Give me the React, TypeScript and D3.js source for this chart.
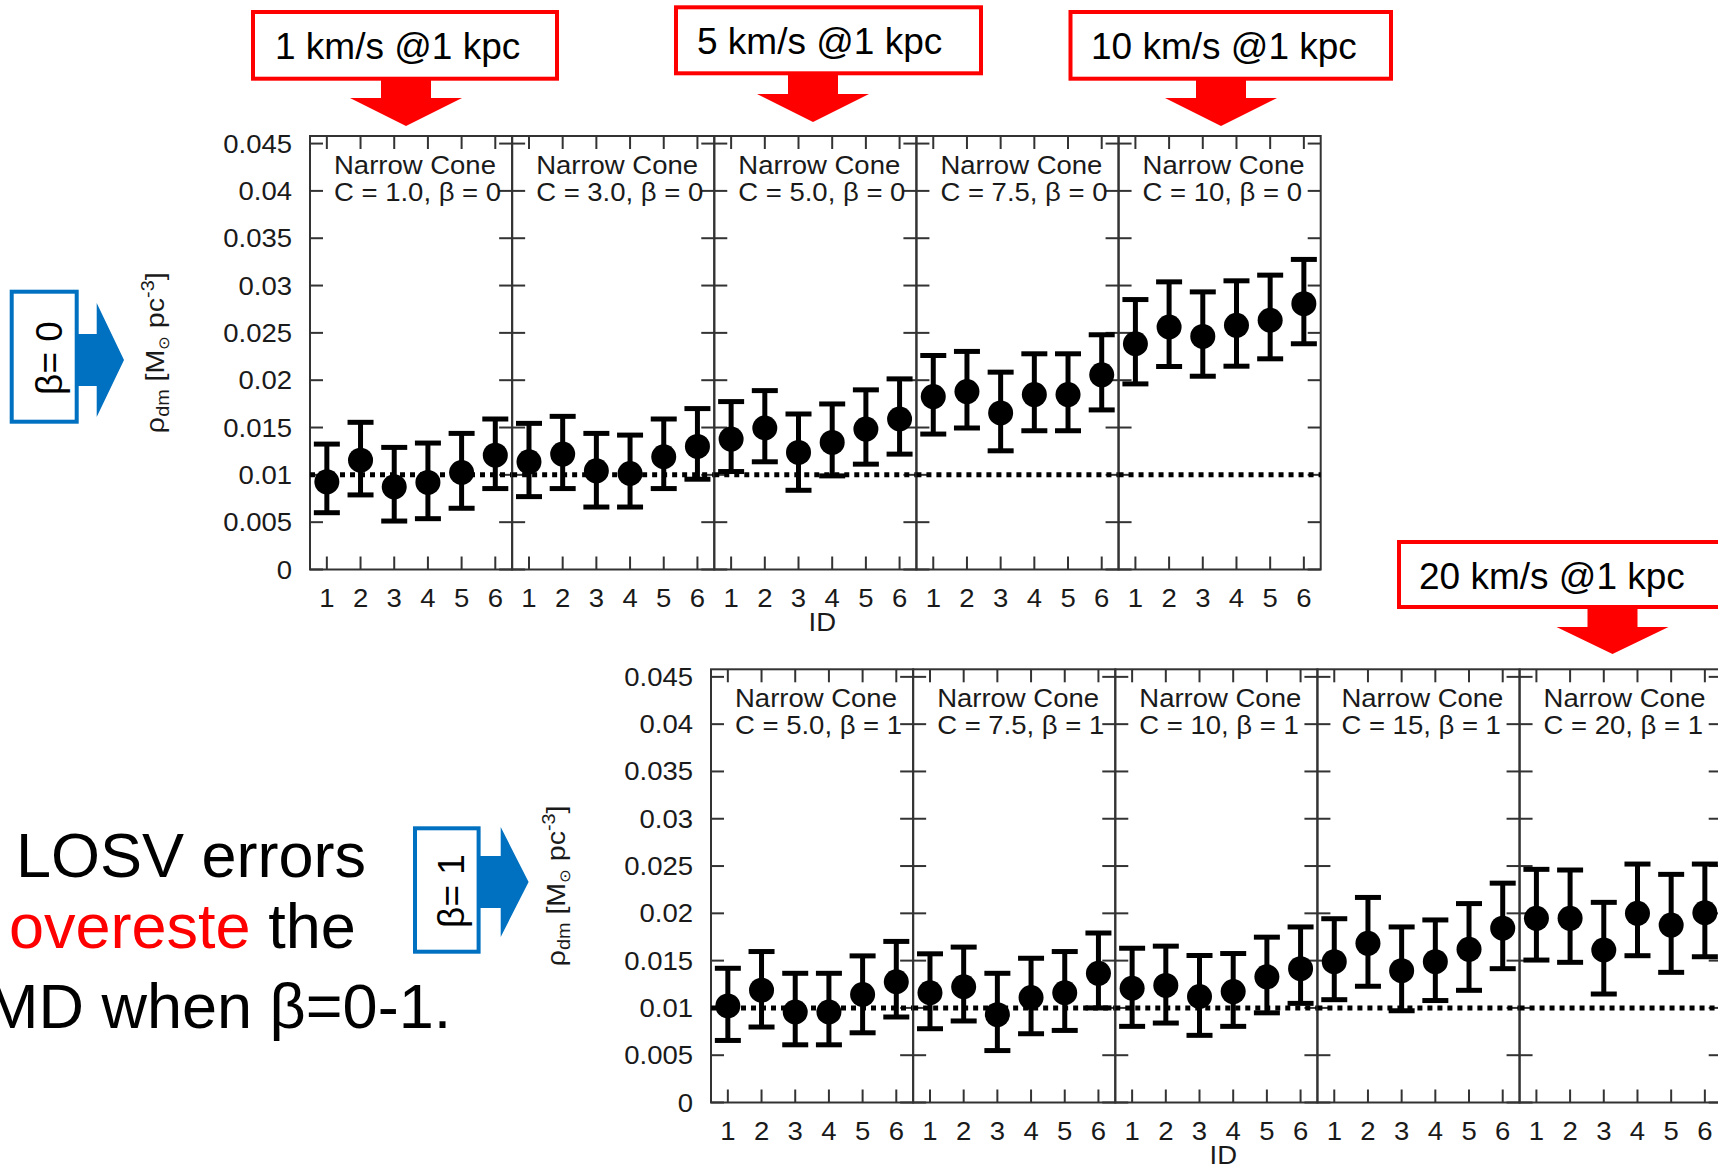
import React from 'react';
import * as d3 from 'd3';

// simulated stars ID per panel
const ids = [1, 2, 3, 4, 5, 6];
const yTicks = [0, 0.005, 0.01, 0.015, 0.02, 0.025, 0.03, 0.035, 0.04, 0.045];
const yTickLabels = ['0', '0.005', '0.01', '0.015', '0.02', '0.025', '0.03', '0.035', '0.04', '0.045'];
const trueDensity = 0.01;

// beta = 0 row
const topTitles = ['C = 1.0, β = 0', 'C = 3.0, β = 0', 'C = 5.0, β = 0', 'C = 7.5, β = 0', 'C = 10, β = 0'];
const topMean = [
  [0.00926, 0.01155, 0.00873, 0.0092, 0.01025, 0.01208],
  [0.01138, 0.01219, 0.01042, 0.01014, 0.01191, 0.0130],
  [0.01378, 0.01495, 0.01237, 0.01343, 0.01484, 0.0159],
  [0.01827, 0.0188, 0.01654, 0.01848, 0.01848, 0.02057],
  [0.02385, 0.02562, 0.02463, 0.0258, 0.02633, 0.02809],
];
const topHigh = [
  [0.01325, 0.01555, 0.0129, 0.01336, 0.01438, 0.0159],
  [0.01544, 0.01618, 0.01438, 0.0142, 0.0159, 0.0170],
  [0.01774, 0.0189, 0.01643, 0.01749, 0.01898, 0.02014],
  [0.02261, 0.02304, 0.02085, 0.02279, 0.02279, 0.0248],
  [0.02852, 0.03039, 0.02933, 0.0305, 0.0311, 0.03276],
];
const topLow = [
  [0.0060, 0.00788, 0.00512, 0.00537, 0.00647, 0.00855],
  [0.0077, 0.00855, 0.0066, 0.0066, 0.00855, 0.00954],
  [0.01035, 0.01138, 0.00837, 0.00989, 0.01113, 0.01219],
  [0.01431, 0.01495, 0.01254, 0.01466, 0.01466, 0.01686],
  [0.01961, 0.02145, 0.02042, 0.02148, 0.02226, 0.02385],
];

// beta = 1 row
const bottomTitles = ['C = 5.0, β = 1', 'C = 7.5, β = 1', 'C = 10, β = 1', 'C = 15, β = 1', 'C = 20, β = 1'];
const bottomMean = [
  [0.01021, 0.01188, 0.00957, 0.00957, 0.01142, 0.01277],
  [0.0116, 0.01224, 0.00929, 0.0111, 0.0116, 0.01366],
  [0.01208, 0.01238, 0.01121, 0.01173, 0.01329, 0.01415],
  [0.01489, 0.01683, 0.01394, 0.01489, 0.01619, 0.01843],
  [0.01947, 0.01947, 0.01612, 0.02, 0.01876, 0.02006],
];
const bottomHigh = [
  [0.01419, 0.01596, 0.01366, 0.01366, 0.0155, 0.01703],
  [0.01572, 0.01643, 0.01366, 0.01525, 0.01596, 0.01792],
  [0.01631, 0.01653, 0.01554, 0.01575, 0.01748, 0.01856],
  [0.01943, 0.02168, 0.01856, 0.0193, 0.02103, 0.02319],
  [0.02465, 0.02458, 0.02116, 0.02521, 0.02412, 0.02521],
];
const bottomLow = [
  [0.00656, 0.00798, 0.0061, 0.0061, 0.00737, 0.00904],
  [0.0078, 0.00862, 0.00549, 0.00727, 0.00762, 0.01],
  [0.00805, 0.0084, 0.0071, 0.00805, 0.00948, 0.01048],
  [0.01087, 0.01229, 0.0097, 0.01078, 0.01186, 0.01415],
  [0.01506, 0.01482, 0.01147, 0.01552, 0.01376, 0.01541],
];

const velocityNotes = ['1 km/s @1 kpc', '5 km/s @1 kpc', '10 km/s @1 kpc', '20 km/s @1 kpc'];

const FONT = '"Liberation Sans", Arial, Helvetica, sans-serif';
const INK = '#1a1a1a';
const PANEL_W = 202.14;
const TICK = 13;

// gnuplot text is a bit wider than Arial, stretch it
function GText({ x, y, anchor = 'start', size = 25, rot = 0, children }: any) {
  return (
    <text
      transform={`translate(${x},${y}) rotate(${rot}) scale(1.1,1)`}
      textAnchor={anchor}
      fontSize={size}
      fontFamily={FONT}
      fill={INK}
    >
      {children}
    </text>
  );
}

function Row({ left, top, bottom, titles, mean, low, high }: any) {
  const y = d3.scaleLinear().domain([0, 0.0458]).range([bottom, top]);
  const mid = left + PANEL_W * 2.5;

  return (
    <g>
      {titles.map((title: string, i: number) => {
        const x0 = left + i * PANEL_W;
        const x1 = x0 + PANEL_W;
        const x = d3.scaleLinear().domain([0.5, 6.5]).range([x0, x1]);
        return (
          <g key={i}>
            <rect x={x0} y={top} width={PANEL_W} height={bottom - top} fill="none" stroke="#333" strokeWidth={2} />
            {ids.map((d) => (
              <g key={d} stroke="#333" strokeWidth={2}>
                <line x1={x(d)} x2={x(d)} y1={bottom} y2={bottom - TICK} />
                <line x1={x(d)} x2={x(d)} y1={top} y2={top + TICK} />
              </g>
            ))}
            {yTicks.map((t) => (
              <g key={t} stroke="#333" strokeWidth={2}>
                <line x1={x0} x2={x0 + TICK} y1={y(t)} y2={y(t)} />
                <line x1={x1} x2={x1 - TICK} y1={y(t)} y2={y(t)} />
              </g>
            ))}
            <line x1={x0} x2={x1} y1={y(trueDensity)} y2={y(trueDensity)} stroke="#000" strokeWidth={5} strokeDasharray="5 5" />
            {ids.map((d, j) => (
              <g key={'e' + d} stroke="#000" strokeWidth={5}>
                <line x1={x(d)} x2={x(d)} y1={y(low[i][j])} y2={y(high[i][j])} />
                <line x1={x(d) - 13} x2={x(d) + 13} y1={y(low[i][j])} y2={y(low[i][j])} />
                <line x1={x(d) - 13} x2={x(d) + 13} y1={y(high[i][j])} y2={y(high[i][j])} />
                <circle cx={x(d)} cy={y(mean[i][j])} r={12.5} fill="#000" stroke="none" />
              </g>
            ))}
            <GText x={x0 + 24} y={top + 37.5}>Narrow Cone</GText>
            <GText x={x0 + 24} y={top + 65}>{title}</GText>
            {ids.map((d) => (
              <GText key={'l' + d} x={x(d)} y={bottom + 37} anchor="middle">{String(d)}</GText>
            ))}
          </g>
        );
      })}
      {yTicks.map((t, k) => (
        <GText key={'y' + t} x={left - 18} y={y(t) + 9} anchor="end">{yTickLabels[k]}</GText>
      ))}
      <GText x={mid + 7} y={bottom + 61} anchor="middle">ID</GText>
      <GText x={left - 146} y={(top + bottom) / 2} anchor="middle" rot={-90} size={26}>
        ρ<tspan fontSize={18} dy={5}>dm</tspan>
        <tspan dy={-5}> [M</tspan>
        <tspan fontSize={15} dy={5}>⊙</tspan>
        <tspan dy={-5}> pc</tspan>
        <tspan fontSize={18} dy={-10}>-3</tspan>
        <tspan dy={10}>]</tspan>
      </GText>
    </g>
  );
}

function downArrow(cx: number, yTop: number, yHead: number, yTip: number, sh: number, hh: number) {
  return [
    [cx - sh, yTop], [cx + sh, yTop], [cx + sh, yHead], [cx + hh, yHead],
    [cx, yTip], [cx - hh, yHead], [cx - sh, yHead],
  ].map((p) => p.join(',')).join(' ');
}

function rightArrow(xL: number, xHead: number, xTip: number, cy: number, sh: number, hh: number) {
  return [
    [xL, cy - sh], [xHead, cy - sh], [xHead, cy - hh], [xTip, cy],
    [xHead, cy + hh], [xHead, cy + sh], [xL, cy + sh],
  ].map((p) => p.join(',')).join(' ');
}

// call-out boxes on the slide
const redBoxes = [
  { x: 253, y: 12, w: 304, h: 66.7, tx: 275, ty: 59, ax: 406, ay: 78, ah: 98, at: 126 },
  { x: 676, y: 7.3, w: 305, h: 66, tx: 697, ty: 54, ax: 813, ay: 73, ah: 94, at: 122 },
  { x: 1070.5, y: 12, w: 320.5, h: 66.7, tx: 1091, ty: 59, ax: 1221, ay: 78, ah: 98, at: 126 },
  { x: 1399, y: 542, w: 340, h: 65, tx: 1419, ty: 589, ax: 1612.5, ay: 607, ah: 627, at: 654 },
];

export default function App() {
  return (
    <div style={{ position: 'absolute', left: 0, top: 0, width: 1718, height: 1169, overflow: 'hidden', background: '#fff' }}>
      <svg width={1718} height={1169} style={{ display: 'block' }}>
        <rect width={1718} height={1169} fill="#fff" />

        <Row left={310} top={136} bottom={569.5} titles={topTitles} mean={topMean} low={topLow} high={topHigh} />
        <Row left={711} top={669.3} bottom={1102.5} titles={bottomTitles} mean={bottomMean} low={bottomLow} high={bottomHigh} />

        {redBoxes.map((b, i) => (
          <g key={i}>
            <polygon points={downArrow(b.ax, b.ay, b.ah, b.at, 25, 56)} fill="#ff0000" />
            <rect x={b.x} y={b.y} width={b.w} height={b.h} fill="#fff" stroke="#ff0000" strokeWidth={4} />
            <text x={b.tx} y={b.ty} fontSize={37} fontFamily={FONT} fill="#000">{velocityNotes[i]}</text>
          </g>
        ))}

        {/* beta = 0 tag */}
        <polygon points={rightArrow(76, 96.7, 124, 360, 26, 57)} fill="#0070c0" />
        <rect x={11.7} y={291.7} width={65} height={130} fill="#fff" stroke="#0070c0" strokeWidth={4} />
        <text transform="translate(61.5,358) rotate(-90)" textAnchor="middle" fontSize={37} fontFamily={FONT} fill="#000">β= 0</text>

        {/* beta = 1 tag */}
        <polygon points={rightArrow(478, 500.7, 528.6, 882, 26, 55)} fill="#0070c0" />
        <rect x={415} y={828.3} width={63.6} height={123.4} fill="#fff" stroke="#0070c0" strokeWidth={4} />
        <text transform="translate(464,891) rotate(-90)" textAnchor="middle" fontSize={37} fontFamily={FONT} fill="#000">β= 1</text>

        <g fontSize={63} fontFamily={FONT} fill="#000">
          <text x={16} y={877}>LOSV errors</text>
          <text x={9} y={948}><tspan fill="#ff0000">overeste</tspan> the</text>
          <text x={-14} y={1028}>MD when β=0-1.</text>
        </g>
      </svg>
    </div>
  );
}
